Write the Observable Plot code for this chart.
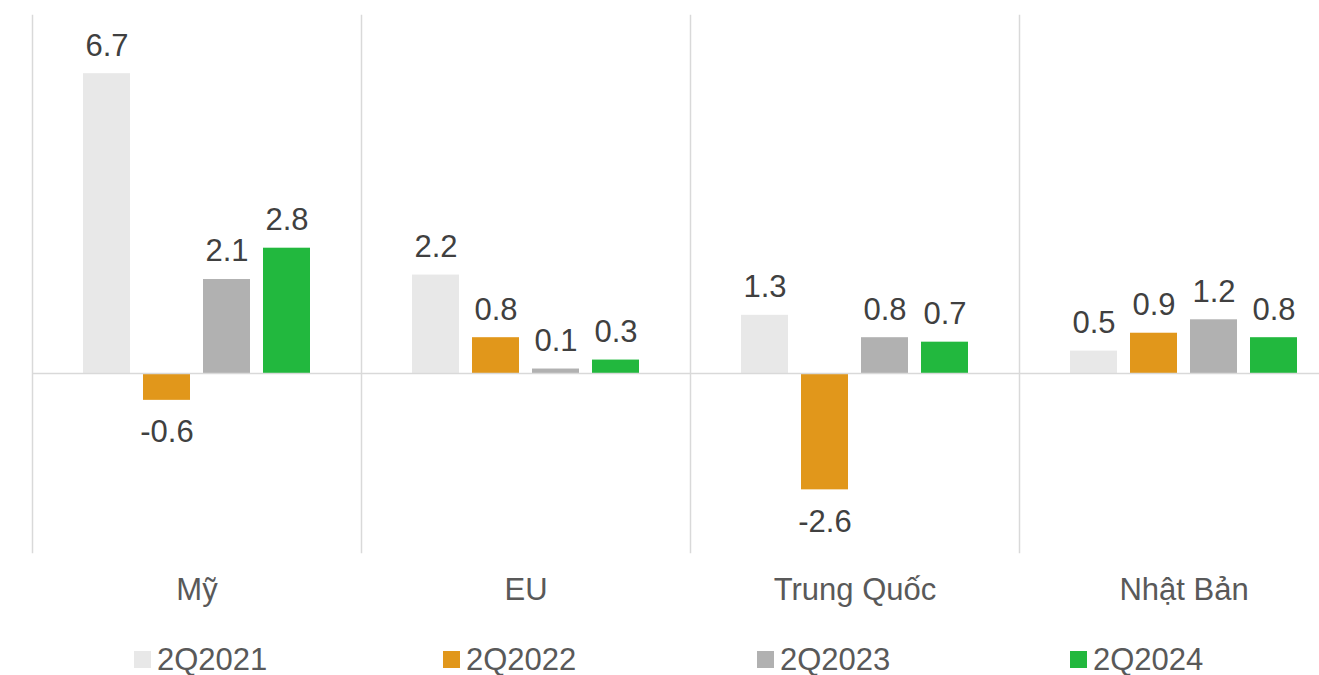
<!DOCTYPE html>
<html>
<head>
<meta charset="utf-8">
<script src="https://cdn.jsdelivr.net/npm/d3@7"></script>
<script src="https://cdn.jsdelivr.net/npm/@observablehq/plot@0.6"></script>
<style>
  html, body { margin: 0; padding: 0; background: #fff; overflow: hidden; width: 1319px; height: 675px; }
  #wrap { position: relative; width: 1319px; height: 675px; overflow: hidden; font-family: "Liberation Sans", Arial, sans-serif; }
  #chart svg { max-width: none !important; height: 620px !important; }
  #legend { position: absolute; left: 0; top: 639px; height: 40px; width: 1319px; }
  .item { position: absolute; top: 0; height: 40px; display: flex; align-items: center; font-size: 31px; line-height: 1; color: #595959; }
  .item span { line-height: 1; }
  .sw { width: 17px; height: 17px; margin-right: 6px; }
</style>
</head>
<body>
<div id="wrap"><div id="chart"></div><div id="legend"></div></div>
<script>
const countries = ["Mỹ", "EU", "Trung Quốc", "Nhật Bản"];
const years = ["2Q2021", "2Q2022", "2Q2023", "2Q2024"];
const colors = ["#e8e8e8", "#e1971b", "#b1b1b1", "#22b83e"];
const v2021 = [6.7, 2.2, 1.3, 0.5];
const v2022 = [-0.6, 0.8, -2.6, 0.9];
const v2023 = [2.1, 0.1, 0.8, 1.2];
const v2024 = [2.8, 0.3, 0.7, 0.8];

const series = [v2021, v2022, v2023, v2024];
const data = [];
countries.forEach((c, i) => years.forEach((y, j) => data.push({country: c, year: y, value: series[j][i]})));

const font = "Liberation Sans, Arial, sans-serif";
const chart = Plot.plot({
  width: 1350,
  height: 620,
  marginLeft: 32,
  marginRight: 2,
  marginTop: 15,
  marginBottom: 68,
  style: {fontFamily: font, fontSize: "31px", background: "transparent", maxWidth: "none"},
  fx: {domain: countries, padding: 0, label: null, tickSize: 0, tickPadding: 25},
  x: {domain: years, paddingInner: 0.217, paddingOuter: 0.85, axis: null},
  y: {domain: [-4, 8], axis: null},
  color: {domain: years, range: colors},
  marks: [
    Plot.frame({anchor: "left", stroke: "#d9d9d9", strokeWidth: 1.5}),
    Plot.barY(data, {fx: "country", x: "year", y: "value", fill: "year"}),
    Plot.ruleY([0], {stroke: "#d9d9d9", strokeWidth: 1.5}),
    Plot.text(data.filter(d => d.value >= 0), {fx: "country", x: "year", y: "value", text: d => d.value.toFixed(1), dy: -28, fill: "#404040", fontSize: 31, lineAnchor: "middle"}),
    Plot.text(data.filter(d => d.value < 0), {fx: "country", x: "year", y: "value", text: d => d.value.toFixed(1), dy: 32, fill: "#404040", fontSize: 31, lineAnchor: "middle"})
  ]
});
chart.querySelectorAll("g[aria-label='fx-axis tick label']").forEach(e => e.setAttribute("fill", "#595959"));
document.getElementById("chart").appendChild(chart);

const legendX = [134, 443, 757, 1070];
const legend = document.getElementById("legend");
years.forEach((y, i) => {
  const it = document.createElement("div");
  it.className = "item";
  it.style.left = legendX[i] + "px";
  it.innerHTML = `<div class="sw" style="background:${colors[i]}"></div><span>${y}</span>`;
  legend.appendChild(it);
});
</script>
</body>
</html>
